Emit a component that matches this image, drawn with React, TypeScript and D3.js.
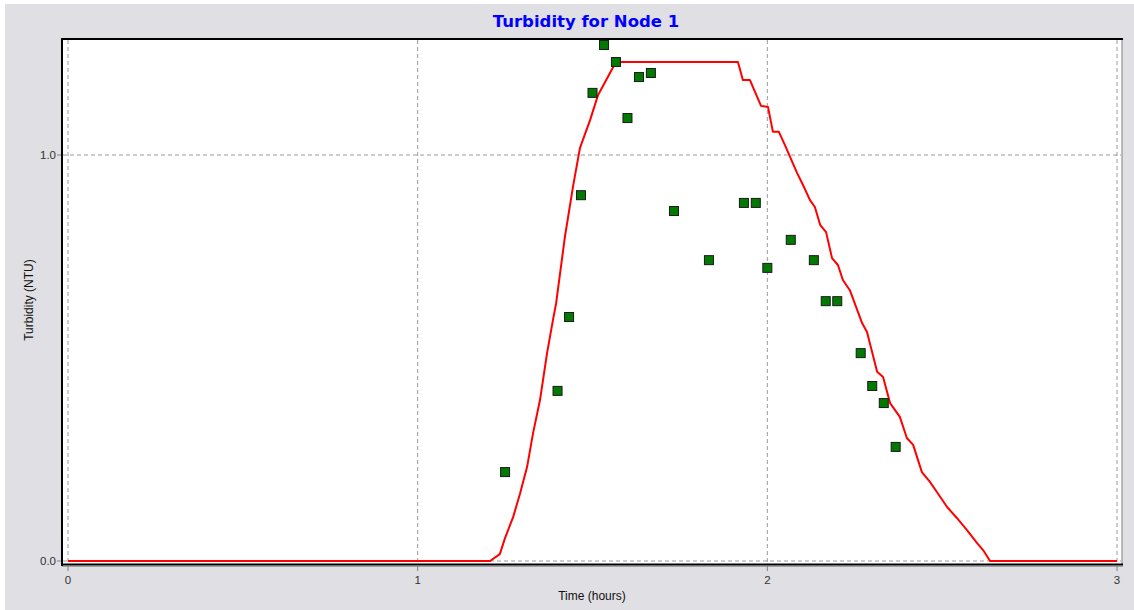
import React from "react";
import * as d3 from "d3";

// Simulated turbidity at Node 1 (hours, NTU)
const simTime = [
  0, 1.207, 1.235, 1.25, 1.273, 1.293, 1.313, 1.33, 1.35, 1.37, 1.387, 1.396,
  1.421, 1.444, 1.464, 1.493, 1.516, 1.567, 1.916, 1.93, 1.95, 1.982, 2.002,
  2.016, 2.033, 2.05, 2.085, 2.102, 2.122, 2.136, 2.151, 2.168, 2.185, 2.202,
  2.216, 2.236, 2.271, 2.285, 2.314, 2.331, 2.351, 2.379, 2.399, 2.417, 2.442,
  2.465, 2.485, 2.514, 2.542, 2.571, 2.6, 2.617, 2.637, 3,
];
const simValue = [
  0, 0, 0.017, 0.057, 0.108, 0.167, 0.232, 0.315, 0.397, 0.512, 0.594, 0.635,
  0.798, 0.921, 1.017, 1.086, 1.148, 1.229, 1.229, 1.185, 1.185, 1.121, 1.118,
  1.057, 1.057, 1.025, 0.956, 0.926, 0.889, 0.872, 0.828, 0.81, 0.746, 0.729,
  0.692, 0.667, 0.586, 0.564, 0.466, 0.453, 0.389, 0.355, 0.303, 0.286, 0.219,
  0.195, 0.17, 0.133, 0.106, 0.076, 0.044, 0.027, 0, 0,
];

// Observed turbidity samples (hours, NTU)
const obsTime = [
  1.25, 1.4, 1.433, 1.467, 1.5, 1.533, 1.567, 1.6, 1.633, 1.667, 1.733, 1.833,
  1.933, 1.967, 2.0, 2.067, 2.133, 2.167, 2.2, 2.267, 2.3, 2.333, 2.367,
];
const obsValue = [
  0.219, 0.419, 0.601, 0.901, 1.153, 1.271, 1.229, 1.091, 1.192, 1.202, 0.862,
  0.741, 0.882, 0.882, 0.722, 0.791, 0.741, 0.64, 0.64, 0.512, 0.431, 0.389,
  0.281,
];

const xTicks = [0, 1, 2, 3];
const xTickLabels = ["0", "1", "2", "3"];
const yTicks = [0, 1];
const yTickLabels = ["0.0", "1.0"];

const W = 1134;
const H = 610;
const frame = { left: 62, top: 39, right: 1122, bottom: 565 };
const font = "'Liberation Sans', Arial, sans-serif";

export default function App() {
  const x = d3.scaleLinear().domain([0, 3]).range([68, 1117]);
  const y = d3.scaleLinear().domain([0, 1]).range([561, 155]);

  const simPts: [number, number][] = simTime.map((t, i) => [t, simValue[i]]);
  const line = d3
    .line<[number, number]>()
    .x((d) => x(d[0]))
    .y((d) => y(d[1]));

  const sq = 9;

  return (
    <div style={{ position: "absolute", left: 0, top: 0 }}>
      <svg width={W} height={H} style={{ display: "block" }}>
        <rect x={0} y={0} width={W} height={H} fill="#ffffff" />
        <rect x={5} y={4} width={W - 5} height={H - 4} fill="#e0dfe3" />

        <text
          x={586}
          y={27}
          textAnchor="middle"
          fontFamily="'DejaVu Sans', Verdana, sans-serif"
          fontWeight="bold"
          fontSize={16.5}
          fill="#0000ff"
        >
          Turbidity for Node 1
        </text>

        {/* plot area */}
        <rect
          x={frame.left}
          y={frame.top}
          width={frame.right - frame.left}
          height={frame.bottom - frame.top}
          fill="#ffffff"
        />

        {/* grid */}
        {xTicks.map((t) => (
          <line
            key={"gx" + t}
            x1={x(t)}
            x2={x(t)}
            y1={frame.top + 1}
            y2={frame.bottom - 1}
            stroke="#9a9a9a"
            strokeDasharray="4,3"
          />
        ))}
        {yTicks.map((t) => (
          <line
            key={"gy" + t}
            x1={frame.left + 1}
            x2={frame.right - 1}
            y1={y(t)}
            y2={y(t)}
            stroke="#9a9a9a"
            strokeDasharray="4,3"
          />
        ))}

        {/* frame */}
        <line x1={frame.right} x2={frame.right} y1={frame.top} y2={frame.bottom} stroke="#808080" strokeWidth={1} />
        <line x1={frame.left} x2={frame.right + 1} y1={frame.top} y2={frame.top} stroke="#000" strokeWidth={2} />
        <line x1={frame.left} x2={frame.left} y1={frame.top - 1} y2={frame.bottom + 1} stroke="#000" strokeWidth={2} />
        <line x1={frame.left - 1} x2={frame.right + 1} y1={frame.bottom - 0.5} y2={frame.bottom - 0.5} stroke="#000" strokeWidth={2} />
        <line x1={frame.left} x2={frame.right + 1} y1={frame.bottom + 1.5} y2={frame.bottom + 1.5} stroke="#a0a0a0" strokeWidth={1} />

        {/* axis ticks and labels */}
        {xTicks.map((t, i) => (
          <g key={"xt" + t}>
            <line x1={x(t)} x2={x(t)} y1={frame.bottom + 1} y2={frame.bottom + 6} stroke="#808080" />
            <text x={x(t)} y={584} textAnchor="middle" fontFamily={font} fontSize={11.5} fill="#333">
              {xTickLabels[i]}
            </text>
          </g>
        ))}
        {yTicks.map((t, i) => (
          <g key={"yt" + t}>
            <line x1={frame.left - 5} x2={frame.left - 1} y1={y(t)} y2={y(t)} stroke="#808080" />
            <text x={56} y={y(t) + 4} textAnchor="end" fontFamily={font} fontSize={11.5} fill="#333">
              {yTickLabels[i]}
            </text>
          </g>
        ))}

        <text x={592} y={600} textAnchor="middle" fontFamily={font} fontSize={12} fill="#111">
          Time (hours)
        </text>
        <text
          transform="translate(33,300) rotate(-90)"
          textAnchor="middle"
          fontFamily={font}
          fontSize={12}
          fill="#111"
        >
          Turbidity (NTU)
        </text>

        {/* simulated series */}
        <path d={line(simPts) || ""} fill="none" stroke="#ff0000" strokeWidth={2} strokeLinejoin="round" />

        {/* observed samples */}
        {obsTime.map((t, i) => (
          <rect
            key={"o" + i}
            x={x(t) - sq / 2}
            y={y(obsValue[i]) - sq / 2}
            width={sq}
            height={sq}
            fill="#007a00"
            stroke="#1a1a1a"
            strokeWidth={1}
          />
        ))}
      </svg>
    </div>
  );
}
